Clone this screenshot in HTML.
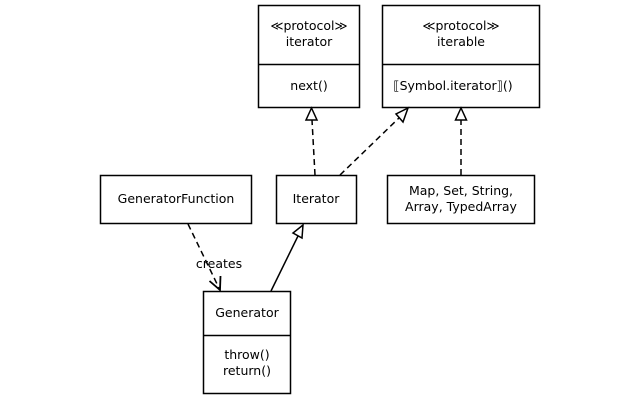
<!DOCTYPE html>
<html><head><meta charset="utf-8"><style>
html,body{margin:0;padding:0;background:#fff;}
svg{display:block;}
text{font-family:"DejaVu Sans","Liberation Sans",sans-serif;font-size:12.5px;fill:#000;}
</style></head><body>
<svg width="640" height="400" viewBox="0 0 640 400" xmlns="http://www.w3.org/2000/svg">
<g fill="#fff" stroke="#000" stroke-width="1.5">
<rect x="258.5" y="5.5" width="101" height="102"/>
<line x1="258.5" y1="64.5" x2="359.5" y2="64.5"/>
<rect x="382.5" y="5.5" width="157" height="102"/>
<line x1="382.5" y1="64.5" x2="539.5" y2="64.5"/>
<rect x="100.5" y="175.5" width="151" height="48"/>
<rect x="276.5" y="175.5" width="80" height="48"/>
<rect x="387.5" y="175.5" width="147" height="48"/>
<rect x="203.5" y="291.5" width="87" height="102"/>
<line x1="203.5" y1="335.5" x2="290.5" y2="335.5"/>
</g>
<g stroke="#000" stroke-width="1.5" fill="none">
<line x1="315" y1="175" x2="312" y2="120" stroke-dasharray="6,4"/>
<line x1="340" y1="175" x2="400" y2="117" stroke-dasharray="6,4"/>
<line x1="461" y1="175" x2="461" y2="120" stroke-dasharray="6,4"/>
<line x1="188" y1="224" x2="219" y2="288" stroke-dasharray="6,4"/>
<line x1="271" y1="291" x2="298" y2="236"/>
<polyline points="209.5,281 220,290 220.5,276" stroke-width="1.8"/>
</g>
<g fill="#fff" stroke="#000" stroke-width="1.5">
<polygon points="311.5,108 306,120 317,120"/>
<polygon points="408,108 396,114 403,122"/>
<polygon points="461,108 455.5,120 466.5,120"/>
<polygon points="303,225 293,233 302,238"/>
</g>
<g text-anchor="middle">
<text x="309" y="30">≪protocol≫</text>
<text x="309" y="46">iterator</text>
<text x="309" y="90">next()</text>
<text x="461" y="30">≪protocol≫</text>
<text x="461" y="46">iterable</text>
<text x="453" y="90">⟦Symbol.iterator⟧()</text>
<text x="176" y="203">GeneratorFunction</text>
<text x="316" y="203">Iterator</text>
<text x="461" y="195">Map, Set, String,</text>
<text x="461" y="211">Array, TypedArray</text>
<text x="219" y="268">creates</text>
<text x="247" y="317">Generator</text>
<text x="247" y="359">throw()</text>
<text x="247" y="375">return()</text>
</g>
</svg>
</body></html>
